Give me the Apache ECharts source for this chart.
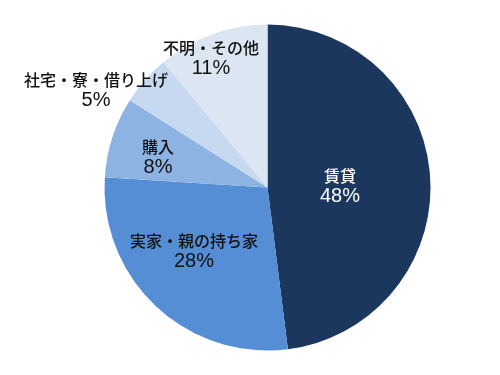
<!DOCTYPE html>
<html>
<head>
<meta charset="utf-8">
<script src="https://cdn.jsdelivr.net/npm/echarts@6/dist/echarts.min.js"></script>
<style>
html,body{margin:0;padding:0;background:#fff;}
#c{width:500px;height:375px;}
</style>
</head>
<body>
<div id="c"></div>
<script>
const categories = ['賃貸', '実家・親の持ち家', '購入', '社宅・寮・借り上げ', '不明・その他'];
const values = [48, 28, 8, 5, 11];

const colors = ['#1B375E', '#558ED5', '#8DB3E2', '#C6D9F1', '#DCE6F2'];
const labelColors = ['#ffffff', '#111111', '#111111', '#111111', '#111111'];
const labelCenters = [[340, 186], [194, 251], [158, 157], [96, 90], [211, 58]];

const chart = echarts.init(document.getElementById('c'), null, {renderer: 'canvas'});
chart.setOption({
  animation: false,
  backgroundColor: '#ffffff',
  series: [{
    type: 'pie',
    center: [267.5, 187.5],
    radius: [0, 163],
    startAngle: 90,
    clockwise: true,
    avoidLabelOverlap: false,
    labelLine: {show: false},
    itemStyle: {borderWidth: 0},
    label: {
      show: true,
      position: 'inside',
      formatter: '{n|{b}}\n{p|{c}%}',
      rich: {
        n: {fontFamily: '"Noto Sans CJK JP", sans-serif', fontSize: 16, fontWeight: 500, lineHeight: 21, align: 'center'},
        p: {fontFamily: '"Liberation Sans", Arial, sans-serif', fontSize: 20, lineHeight: 21, align: 'center'}
      }
    },
    labelLayout: function (params) {
      const p = labelCenters[params.dataIndex];
      return {x: p[0], y: p[1], align: 'center', verticalAlign: 'middle'};
    },
    data: categories.map((name, i) => ({
      name: name,
      value: values[i],
      itemStyle: {color: colors[i]},
      label: {color: labelColors[i], rich: {n: {color: labelColors[i]}, p: {color: labelColors[i]}}}
    }))
  }]
});
</script>
</body>
</html>
